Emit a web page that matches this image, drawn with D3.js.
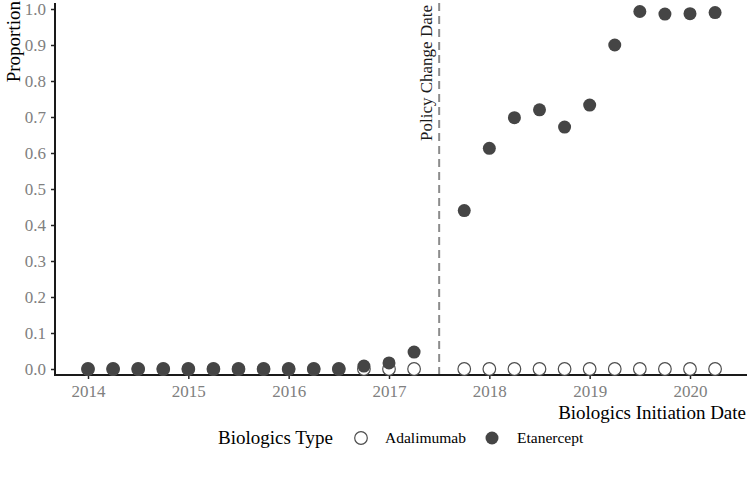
<!DOCTYPE html>
<html>
<head>
    <meta charset="UTF-8">
    <title>Chart</title>
    <script src="https://cdn.jsdelivr.net/npm/d3@7"></script>
    <style>
        body { margin: 0; background: #fff; }
        svg text { font-family: "Liberation Serif", "Times New Roman", serif; }
    </style>
</head>
<body>
    <div id="graph-container"></div>

    <script>
        // Quarter dates (decimal years)
        const dates = [2014, 2014.25, 2014.5, 2014.75, 2015, 2015.25, 2015.5, 2015.75,
            2016, 2016.25, 2016.5, 2016.75, 2017, 2017.25,
            2017.75, 2018, 2018.25, 2018.5, 2018.75, 2019, 2019.25, 2019.5, 2019.75, 2020, 2020.25];
        const adalimumab = [0, 0, 0, 0, 0, 0, 0, 0, 0, 0, 0, 0, 0, 0,
            0, 0, 0, 0, 0, 0, 0, 0, 0, 0, 0];
        const etanercept = [0, 0, 0, 0, 0, 0, 0, 0, 0, 0, 0, 0.008, 0.017, 0.047,
            0.44, 0.613, 0.698, 0.72, 0.672, 0.733, 0.9, 0.993, 0.986, 0.987, 0.99];
        const xTicks = [2014, 2015, 2016, 2017, 2018, 2019, 2020];
        const yTicks = [0, 0.1, 0.2, 0.3, 0.4, 0.5, 0.6, 0.7, 0.8, 0.9, 1.0];
        const policyDate = 2017.5;

        function draw() {
            const width = 747, height = 479;
            const svg = d3.select("#graph-container")
                .append("svg")
                .attr("width", width)
                .attr("height", height);

            const x = d3.scaleLinear().domain([2014, 2020]).range([88, 690]);
            const y = d3.scaleLinear().domain([0, 1]).range([369, 9]);
            const pLeft = 55, pRight = 747, pTop = 3, pBottom = 375;

            // policy line
            svg.append("line")
                .attr("x1", x(policyDate)).attr("x2", x(policyDate))
                .attr("y1", pTop).attr("y2", pBottom)
                .attr("stroke", "#8c8c8c")
                .attr("stroke-width", 2)
                .attr("stroke-dasharray", "8,5");

            svg.append("text")
                .attr("transform", `translate(${x(policyDate) - 7},${5}) rotate(-90)`)
                .attr("text-anchor", "end")
                .attr("font-size", "17px")
                .attr("fill", "#1a1a1a")
                .text("Policy Change Date");

            // axes
            const xAxis = svg.append("g")
                .attr("transform", `translate(0,${pBottom})`)
                .call(d3.axisBottom(x).tickValues(xTicks).tickFormat(d3.format("d")).tickSize(4).tickPadding(6));
            xAxis.select(".domain").remove();
            xAxis.selectAll(".tick line").attr("stroke", "#222").attr("stroke-width", 1.5);
            xAxis.selectAll(".tick text").attr("fill", "#808080").attr("font-size", "17px");

            const yAxis = svg.append("g")
                .attr("transform", `translate(${pLeft},0)`)
                .call(d3.axisLeft(y).tickValues(yTicks).tickFormat(d3.format(".1f")).tickSize(4).tickPadding(5));
            yAxis.select(".domain").remove();
            yAxis.selectAll(".tick line").attr("stroke", "#222").attr("stroke-width", 1.5);
            yAxis.selectAll(".tick text").attr("fill", "#808080").attr("font-size", "17px");

            svg.append("line")
                .attr("x1", pLeft).attr("x2", pLeft).attr("y1", pTop).attr("y2", pBottom + 1)
                .attr("stroke", "#1a1a1a").attr("stroke-width", 2);
            svg.append("line")
                .attr("x1", pLeft - 1).attr("x2", pRight).attr("y1", pBottom).attr("y2", pBottom)
                .attr("stroke", "#1a1a1a").attr("stroke-width", 2);

            // axis titles
            svg.append("text")
                .attr("transform", `translate(${20},${1}) rotate(-90)`)
                .attr("text-anchor", "end")
                .attr("font-size", "19px")
                .attr("fill", "#000")
                .text("Proportion");

            svg.append("text")
                .attr("x", 746).attr("y", 419)
                .attr("text-anchor", "end")
                .attr("font-size", "19px")
                .attr("fill", "#000")
                .text("Biologics Initiation Date");

            // points
            svg.selectAll(".ada")
                .data(dates)
                .join("circle")
                .attr("class", "ada")
                .attr("cx", d => x(d))
                .attr("cy", (d, i) => y(adalimumab[i]))
                .attr("r", 6.3)
                .attr("fill", "#fff")
                .attr("stroke", "#4d4d4d")
                .attr("stroke-width", 1.2);

            svg.selectAll(".eta")
                .data(dates)
                .join("circle")
                .attr("class", "eta")
                .attr("cx", d => x(d))
                .attr("cy", (d, i) => y(etanercept[i]))
                .attr("r", 6.5)
                .attr("fill", "#454545");

            // legend
            const ly = 438;
            svg.append("text")
                .attr("x", 218).attr("y", ly + 6)
                .attr("font-size", "19px")
                .attr("fill", "#000")
                .text("Biologics Type");
            svg.append("circle")
                .attr("cx", 361).attr("cy", ly).attr("r", 6.3)
                .attr("fill", "#fff").attr("stroke", "#4d4d4d").attr("stroke-width", 1.2);
            svg.append("text")
                .attr("x", 385).attr("y", ly + 5)
                .attr("font-size", "15.5px")
                .attr("fill", "#000")
                .text("Adalimumab");
            svg.append("circle")
                .attr("cx", 492).attr("cy", ly).attr("r", 6.5)
                .attr("fill", "#454545");
            svg.append("text")
                .attr("x", 517).attr("y", ly + 5)
                .attr("font-size", "15.5px")
                .attr("fill", "#000")
                .text("Etanercept");
        }

        draw();
    </script>
</body>
</html>
